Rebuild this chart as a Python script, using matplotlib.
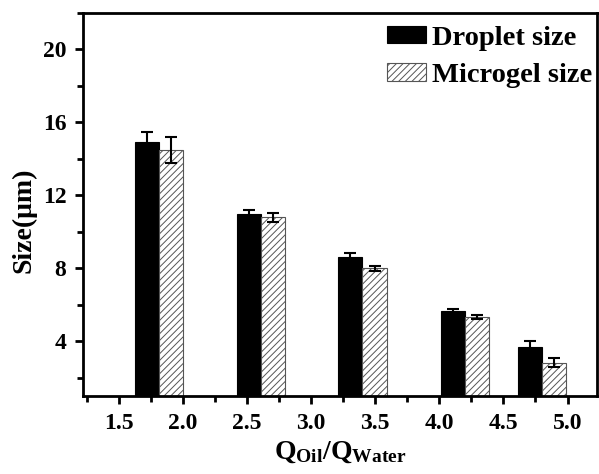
import matplotlib
matplotlib.use('Agg')
import matplotlib.pyplot as plt
from matplotlib.ticker import MultipleLocator

plt.rcParams['font.family'] = ['Liberation Serif', 'DejaVu Serif']
plt.rcParams['font.weight'] = 'bold'
plt.rcParams['mathtext.fontset'] = 'custom'
plt.rcParams['mathtext.rm'] = 'Liberation Serif:bold'
plt.rcParams['mathtext.bf'] = 'Liberation Serif:bold'
plt.rcParams['mathtext.it'] = 'Liberation Serif:bold'
plt.rcParams['hatch.linewidth'] = 0.7

# flow ratio groups (bar pair centres)
ratio = [1.81, 2.607, 3.40, 4.20, 4.80]
droplet = [14.9, 11.0, 8.6, 5.65, 3.7]
droplet_err = [0.55, 0.2, 0.22, 0.1, 0.3]
microgel = [14.5, 10.8, 8.0, 5.33, 2.82]
microgel_err = [0.7, 0.25, 0.15, 0.12, 0.25]

w = 0.188

fig = plt.figure(figsize=(5.99, 4.74), dpi=100)
ax = fig.add_axes([0.1386, 0.1646, 0.9967 - 0.1386, 0.9726 - 0.1646])

xd = [r - w / 2 for r in ratio]
xm = [r + w / 2 for r in ratio]
ax.bar(xd, droplet, width=w, color='black', edgecolor='black', linewidth=0.8,
       label='Droplet size', zorder=2)
ax.bar(xm, microgel, width=w, color='white', edgecolor='#555555', hatch='/////',
       linewidth=0.8, label='Microgel size', zorder=2)
ax.errorbar(xd, droplet, yerr=droplet_err, fmt='none', ecolor='black',
            elinewidth=1.5, capsize=4, capthick=1.5, zorder=3)
ax.errorbar(xm, microgel, yerr=microgel_err, fmt='none', ecolor='black',
            elinewidth=1.5, capsize=4, capthick=1.5, zorder=3)

ax.set_xlim(1.22, 5.23)
ax.set_ylim(1.0, 22.0)
ax.xaxis.set_major_locator(MultipleLocator(0.5))
ax.xaxis.set_minor_locator(MultipleLocator(0.25))
ax.yaxis.set_major_locator(MultipleLocator(4))
ax.yaxis.set_minor_locator(MultipleLocator(2))
ax.set_xticks([1.5, 2.0, 2.5, 3.0, 3.5, 4.0, 4.5, 5.0])
ax.set_yticks([4, 8, 12, 16, 20])

for s in ax.spines.values():
    s.set_linewidth(2)
ax.tick_params(which='major', direction='out', length=6, width=2, labelsize=17, pad=6)
ax.tick_params(which='minor', direction='out', length=4, width=2)

ax.set_ylabel('Size(μm)', fontsize=20, fontweight='bold')
ax.yaxis.set_label_coords(-0.09, 0.46)
ax.set_xlabel(r'$\mathbf{Q_{Oil}/Q_{Water}}$', fontsize=20, labelpad=4)

ax.legend(loc='upper right', bbox_to_anchor=(1.016, 1.0), frameon=False,
          fontsize=20.5, handlelength=1.4, handleheight=0.55, handletextpad=0.2,
          labelspacing=0.43, borderaxespad=0.05, borderpad=0.4)

fig.savefig('out.png', dpi=100)
